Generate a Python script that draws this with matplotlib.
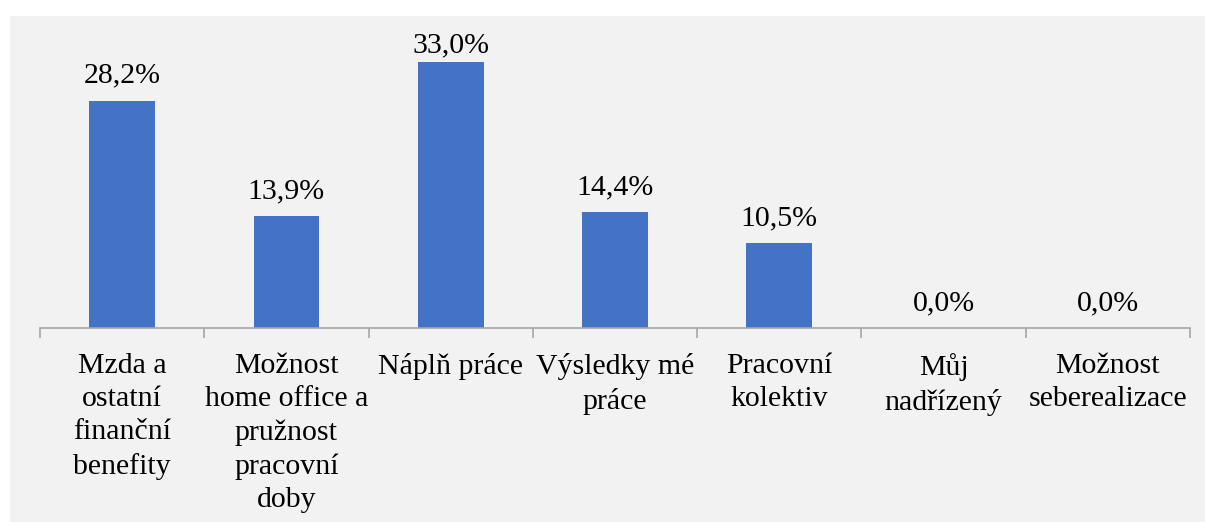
import matplotlib.pyplot as plt
import numpy as np

kategorie = [
    "Mzda a\nostatní\nfinanční\nbenefity",
    "Možnost\nhome office a\npružnost\npracovní\ndoby",
    "Náplň práce",
    "Výsledky mé\npráce",
    "Pracovní\nkolektiv",
    "Můj\nnadřízený",
    "Možnost\nseberealizace",
]
hodnoty = [28.2, 13.9, 33.0, 14.4, 10.5, 0.0, 0.0]

plt.rcParams['font.family'] = ['Liberation Serif', 'DejaVu Serif']

W, H = 1205, 522
fig = plt.figure(figsize=(W / 100, H / 100), dpi=100)
fig.patch.set_facecolor("white")

# šedé pozadí grafu (s bílým okrajem nahoře a vlevo)
fig.patches.append(plt.Rectangle((10 / W, 0), 1 - 10 / W, 1 - 16 / H,
                                 transform=fig.transFigure, facecolor="#F2F2F2",
                                 edgecolor="none", zorder=-1))

x0, x1 = 40, 1190
y_zero, y_top = 328, 46
ax = fig.add_axes([x0 / W, (H - y_zero) / H, (x1 - x0) / W, (y_zero - y_top) / H])
ax.set_facecolor("none")
ax.set_zorder(1)

x = np.arange(len(kategorie))
bars = ax.bar(x, hodnoty, width=0.40, color="#4472C4", zorder=2)

ax.set_xlim(-0.5, len(kategorie) - 0.5)
ax.set_ylim(0, 35)

# popisky hodnot: 18 px nad sloupcem, ale ne výš než horní okraj plochy (jako v Excelu)
px_na_jednotku = (y_zero - y_top) / 35
max_baseline = 52
for b, v in zip(bars, hodnoty):
    baseline = max(y_zero - v * px_na_jednotku - 18, max_baseline)
    y_lab = (y_zero - baseline) / px_na_jednotku
    ax.text(b.get_x() + b.get_width() / 2, y_lab, f"{v:.1f}%".replace(".", ","),
            ha="center", va="baseline", fontsize=21.5, color="black", clip_on=False)

ax.set_yticks([])
for s in ["top", "right", "left"]:
    ax.spines[s].set_visible(False)
ax.spines["bottom"].set_color("#A6A6A6")
ax.spines["bottom"].set_linewidth(1.2)

ax.set_xticks(x)
ax.set_xticklabels(kategorie, fontsize=21.5, linespacing=1.36, va="top")
ax.tick_params(axis="x", which="major", length=0, pad=18)
ax.set_xticks(np.arange(len(kategorie) + 1) - 0.5, minor=True)
ax.tick_params(axis="x", which="minor", length=7, width=1.2, color="#A6A6A6")

fig.savefig("out.png", dpi=100)
